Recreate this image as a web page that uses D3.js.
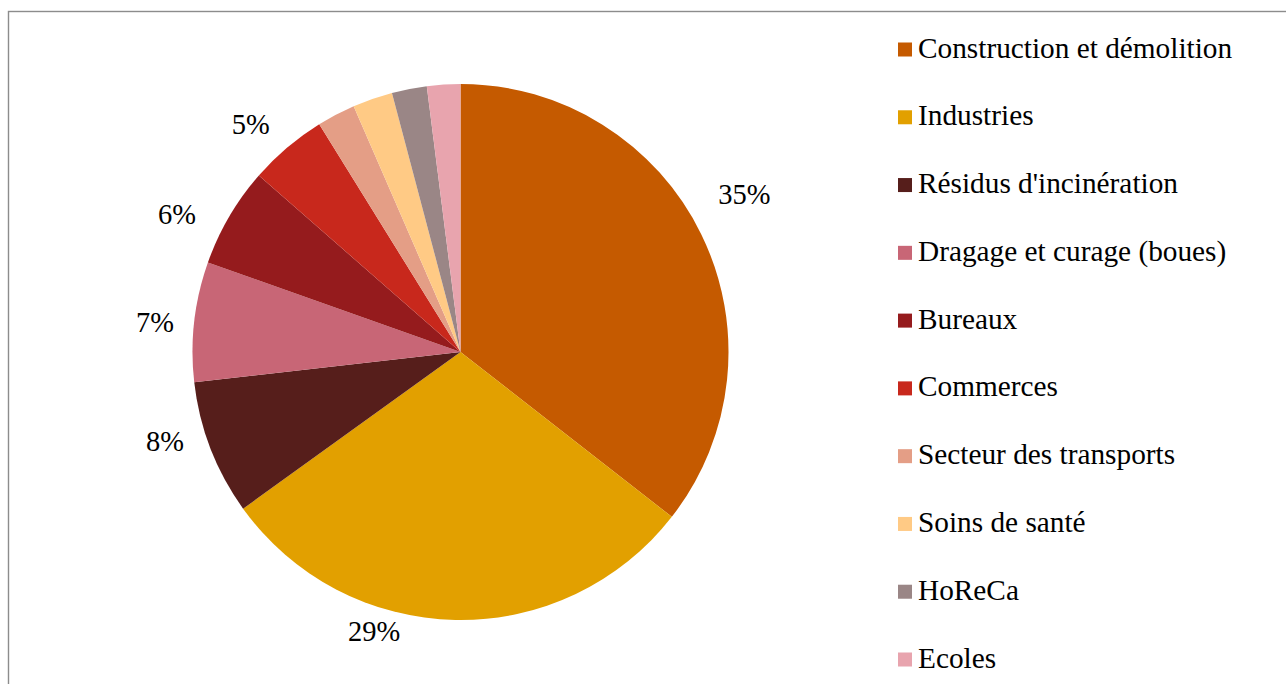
<!DOCTYPE html>
<html lang="fr">
<head>
<meta charset="utf-8">
<script src="https://cdn.jsdelivr.net/npm/d3@7"></script>
<style>
  html, body { margin: 0; padding: 0; background: #ffffff; }
  svg { display: block; }
  text { font-family: "Liberation Serif", "DejaVu Serif", serif; fill: #000; }
</style>
</head>
<body>
<svg id="chart" width="1286" height="684"></svg>
<script>
// Waste streams by origin (share of total, %)
const categories = [
  "Construction et démolition",
  "Industries",
  "Résidus d'incinération",
  "Dragage et curage (boues)",
  "Bureaux",
  "Commerces",
  "Secteur des transports",
  "Soins de santé",
  "HoReCa",
  "Ecoles"
];
const shares = [35.4, 29.4, 8.1, 7.2, 6.0, 4.7, 2.3, 2.4, 2.1, 2.0];
const colors = [
  "#C55A00", "#E2A000", "#561E1B", "#C86676", "#951B1D",
  "#C8281C", "#E49E86", "#FFCA85", "#9A8686", "#E8A4AE"
];
// Only the larger slices carry a percentage label
const labelled = [true, true, true, true, true, true, false, false, false, false];

// Layout
const W = 1286, H = 684;
const cx = 460.5, cy = 352, radius = 268;
const labelFont = 28.5;
const legendFont = 29.3;
// Label placement tweaks around each slice's mid-angle (degrees, px)
const labelNudge = {
  "Construction et démolition": { da: -3.1, dr: 15 },
  "Industries": { da: 16.1, dr: -18 },
  "Résidus d'incinération": { da: 4.4, dr: -1.4 },
  "Dragage et curage (boues)": { da: -0.9, dr: -3 },
  "Bureaux": { da: -4.45, dr: 5.3 },
  "Commerces": { da: -2.3, dr: 0 }
};

const data = categories.map((name, i) => ({ name, value: shares[i], color: colors[i], labelled: labelled[i] }));

const svg = d3.select("#chart");

// Outer frame
svg.append("rect")
  .attr("x", 8.5).attr("y", 11.5)
  .attr("width", W + 20).attr("height", H + 20)
  .attr("fill", "#ffffff")
  .attr("stroke", "#8c8c8c")
  .attr("stroke-width", 1.4);

const pie = d3.pie().sort(null).value(d => d.value);
const arc = d3.arc().innerRadius(0).outerRadius(radius);
const arcs = pie(data);

const g = svg.append("g").attr("transform", `translate(${cx},${cy})`);

g.selectAll("path.slice")
  .data(arcs)
  .join("path")
  .attr("class", "slice")
  .attr("d", arc)
  .attr("fill", d => d.data.color);

// Percentage labels outside the pie
const labelBase = radius + 42;
g.selectAll("text.pct")
  .data(arcs.filter(d => d.data.labelled))
  .join("text")
  .attr("class", "pct")
  .attr("text-anchor", "middle")
  .attr("dy", "0.35em")
  .style("font-size", labelFont + "px")
  .attr("transform", d => {
    const n = labelNudge[d.data.name] || { da: 0, dr: 0 };
    const a = (d.startAngle + d.endAngle) / 2 + n.da * Math.PI / 180;
    const rr = labelBase + n.dr;
    return `translate(${rr * Math.sin(a)},${-rr * Math.cos(a)})`;
  })
  .text(d => Math.round(d.data.value) + "%");

// Legend
const legendY = d3.scalePoint()
  .domain(categories)
  .range([48, 658]);

const legend = svg.append("g");
const item = legend.selectAll("g.item")
  .data(data)
  .join("g")
  .attr("class", "item")
  .attr("transform", d => `translate(898,${legendY(d.name)})`);

item.append("rect")
  .attr("x", 0).attr("y", -5.5)
  .attr("width", 14).attr("height", 14)
  .attr("fill", d => d.color);

item.append("text")
  .attr("x", 20)
  .attr("y", 9.5)
  .style("font-size", legendFont + "px")
  .text(d => d.name);
</script>
</body>
</html>
